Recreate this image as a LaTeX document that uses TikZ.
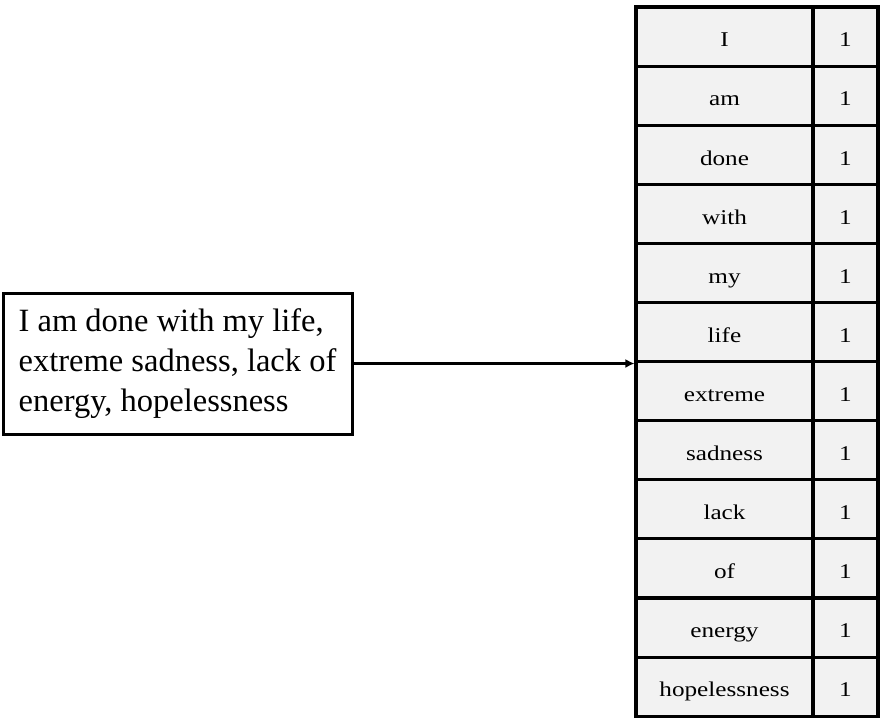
\documentclass[tikz,border=0pt]{standalone}
\usepackage{fontspec}
\setmainfont{Liberation Serif}
\newfontfamily\cellfont[FakeStretch=1.2]{Liberation Serif}
\usetikzlibrary{positioning,arrows.meta}
\definecolor{cellgray}{HTML}{F2F2F2}

\begin{document}
\begin{tikzpicture}[
        x=1pt,
        y=-1pt,
        word/.style={
            rectangle,
            draw=black,
            line width=3.1pt,
            fill=cellgray,
            inner sep=0pt,
            text height=21pt,
            text depth=0.5pt,
            minimum width=177pt,
            minimum height=59.1pt,
            font=\fontsize{21}{24}\cellfont
        },
        count/.style={
            word,
            minimum width=65pt
        },
        textbox/.style={
            rectangle,
            draw=black,
            line width=3pt,
            align=left,
            inner xsep=12pt,
            inner ysep=0pt,
            minimum width=349pt,
            minimum height=141pt,
            font=\fontsize{32.5}{40}\selectfont
        },
        arrow/.style={
            -{Latex[length=9pt,width=9pt]},
            line width=2.4pt
        }
    ]

    \useasboundingbox (0,0) rectangle (882,718);

    % input sentence
    \node[textbox] (msg) at (177.5,363.5)
    {I am done with my life,\\
     extreme sadness, lack of\\
     energy, hopelessness};

    % token table
    \foreach \w [count=\i] in {I,am,done,with,my,life,extreme,sadness,lack,of,energy,hopelessness}
    {
        \node[word] (w\i) at (724.5,{7+(\i-0.5)*59.1}) {\w};
        \node[count] (c\i) at (845.5,{7+(\i-0.5)*59.1}) {1};
    }

    % arrow
    \draw[arrow] (msg.east) -- (msg.east -| w6.south west);

\end{tikzpicture}
\end{document}
